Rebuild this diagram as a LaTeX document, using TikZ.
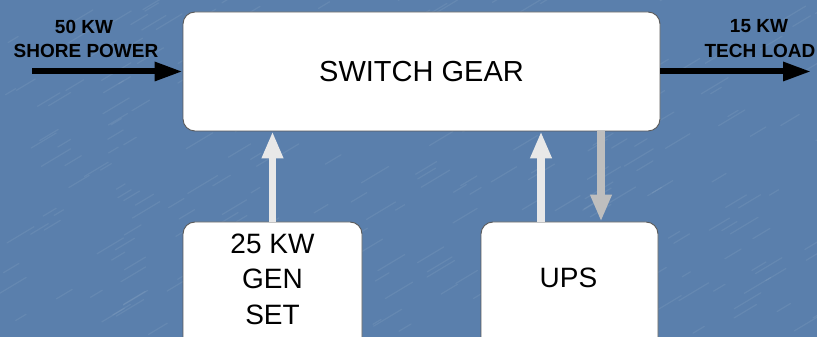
\documentclass[tikz,border=0pt]{standalone}
\usepackage{fontspec}
\setmainfont{Liberation Sans}
\usetikzlibrary{arrows.meta}
\definecolor{bgblue}{RGB}{90,127,172}
\definecolor{boxline}{RGB}{90,90,90}
\definecolor{lightarrow}{RGB}{232,232,232}
\definecolor{grayarrow}{RGB}{190,190,190}
\tikzset{
  block/.style={draw=boxline, line width=0.9pt, fill=white, rounded corners=12pt, inner sep=0pt},
  blacklink/.style={line width=6pt, draw=black, -{Triangle[width=18pt,length=28pt]}},
  uplink/.style={line width=7.5pt, draw=lightarrow, -{Triangle[width=20pt,length=27pt]}},
  downlink/.style={line width=7.5pt, draw=grayarrow, -{Triangle[width=20pt,length=27pt]}},
  lbl/.style={font=\fontsize{19}{22}\selectfont\bfseries, text=black, inner sep=0pt},
  bigtxt/.style={font=\fontsize{29}{36}\selectfont, text=black, align=center, inner sep=0pt}
}
\begin{document}
\begin{tikzpicture}[x=1pt,y=1pt]
\useasboundingbox (0,0) rectangle (817,337);
\clip (0,0) rectangle (817,337);
\fill[bgblue] (0,0) rectangle (817,337);
% subtle water texture
\pgfmathsetseed{7}
\foreach \i in {1,...,260}{
  \pgfmathsetmacro{\px}{rnd*817}
  \pgfmathsetmacro{\py}{rnd*337}
  \pgfmathsetmacro{\ln}{8+rnd*22}
  \draw[white, opacity=0.07, line width=1.2pt, line cap=round] (\px,\py) -- ++(\ln,0.6*\ln);
}
% boxes
\node[block, minimum width=477pt, minimum height=119pt] (sw) at (421.5,265.5) {};
\node[bigtxt] at (sw.center) {SWITCH GEAR};
\node[block, minimum width=179pt, minimum height=140pt] (gen) at (272.5,45) {};
\node[block, minimum width=177pt, minimum height=140pt] (ups) at (569.5,45) {};
\node[bigtxt, font=\fontsize{28}{35.5}\selectfont] at (272.5,58) {25 KW\\GEN\\SET};
\node[bigtxt, font=\fontsize{28}{35}\selectfont] at (568.5,59) {UPS};
% external coordinates
\coordinate (src) at (32,265.5);
\coordinate (dst) at (811,265.5);
\path (ups.north) ++(-28.5,0) coordinate (upsA) ++(60,0) coordinate (upsB);
% connectors
\draw[blacklink] (src) -- (sw.west);
\draw[blacklink] (sw.east) -- (dst);
\draw[uplink] (gen.north) -- (gen.north |- sw.south);
\draw[uplink] (upsA) -- (upsA |- sw.south);
\draw[downlink] (upsB |- sw.south) -- (upsB);
% labels
\node[lbl] at (84,310.5) {50 KW};
\node[lbl] at (86,286.5) {SHORE POWER};
\node[lbl] at (759,310.5) {15 KW};
\node[lbl] at (760,286.5) {TECH LOAD};
\end{tikzpicture}
\end{document}
